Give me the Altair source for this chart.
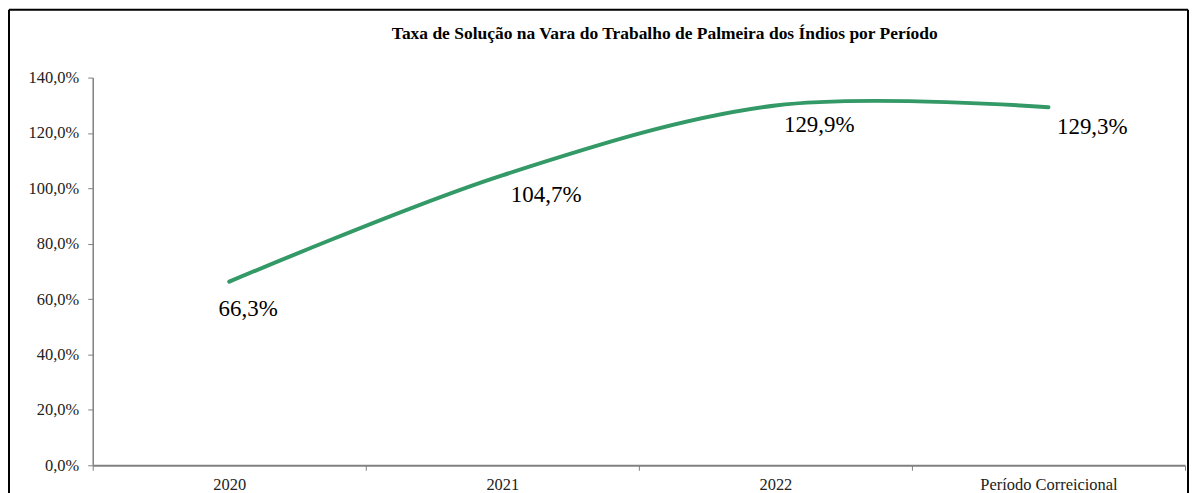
import altair as alt
import pandas as pd

categories = ["2020", "2021", "2022", "Período Correicional"]
values = [0.663, 1.047, 1.299, 1.293]
labels = ["66,3%", "104,7%", "129,9%", "129,3%"]
y_ticks = [0, 0.2, 0.4, 0.6, 0.8, 1.0, 1.2, 1.4]
title_text = "Taxa de Solução na Vara do Trabalho de Palmeira dos Índios por Período"

df = pd.DataFrame({"periodo": categories, "taxa": values, "rotulo": labels})

FONT = "Liberation Serif"
GREEN = "#339966"

x_enc = alt.X(
    "periodo:N",
    sort=categories,
    bandPosition=0.5,
    scale=alt.Scale(type="band", paddingInner=0, paddingOuter=0),
    axis=alt.Axis(
        title=None,
        labelAngle=0,
        tickBand="extent",
        labelFont=FONT,
        labelFontSize=16.5,
        labelColor="#222222",
        labelPadding=6,
        tickSize=5,
        tickColor="#808080",
        domainColor="#808080",
        domainWidth=2,
        grid=False,
    ),
)
y_enc = alt.Y(
    "taxa:Q",
    scale=alt.Scale(domain=[0, 1.4], nice=False, zero=True),
    axis=alt.Axis(
        title=None,
        values=y_ticks,
        labelExpr="replace(format(datum.value, '.1%'), '.', ',')",
        labelFont=FONT,
        labelFontSize=16.5,
        labelColor="#222222",
        labelPadding=9,
        tickSize=5,
        tickColor="#808080",
        domainColor="#808080",
        domainWidth=1.5,
        grid=False,
    ),
)

base = alt.Chart(df)

line = base.mark_line(
    color=GREEN, strokeWidth=4, interpolate="cardinal", strokeCap="round"
).encode(x=x_enc, y=y_enc)

lab_first = base.transform_filter(alt.datum.periodo == "2020").mark_text(
    font=FONT, fontSize=23, color="#000000", dx=19, dy=27
).encode(x=alt.X("periodo:N", sort=categories, bandPosition=0.5), y="taxa:Q", text="rotulo:N")

lab_rest = base.transform_filter(alt.datum.periodo != "2020").mark_text(
    font=FONT, fontSize=23, color="#000000", dx=44, dy=20
).encode(x=alt.X("periodo:N", sort=categories, bandPosition=0.5), y="taxa:Q", text="rotulo:N")

frame_df = pd.DataFrame({"f": [0]})
frame = alt.Chart(frame_df)
left_rule = frame.mark_rule(color="#000000", strokeWidth=2).encode(
    x=alt.value(-84), y=alt.value(-68), y2=alt.value(417)
)
right_rule = frame.mark_rule(color="#000000", strokeWidth=2).encode(
    x=alt.value(1099), y=alt.value(-68), y2=alt.value(417)
)
top_rule = frame.mark_rule(color="#000000", strokeWidth=2).encode(
    x=alt.value(-84), x2=alt.value(1099), y=alt.value(-68)
)
title_mark = frame.mark_text(
    text=title_text,
    font=FONT,
    fontSize=17.5,
    fontWeight="bold",
    color="#000000",
    align="center",
    baseline="middle",
).encode(x=alt.value(574), y=alt.value(-44))

chart = alt.layer(
    line, lab_first, lab_rest, left_rule, right_rule, top_rule, title_mark
).properties(
    width=1096,
    height=389,
    padding=0,
    background="white",
).configure_view(stroke=None)

chart.save("out.html", embed_options={"renderer": "svg", "actions": False})
